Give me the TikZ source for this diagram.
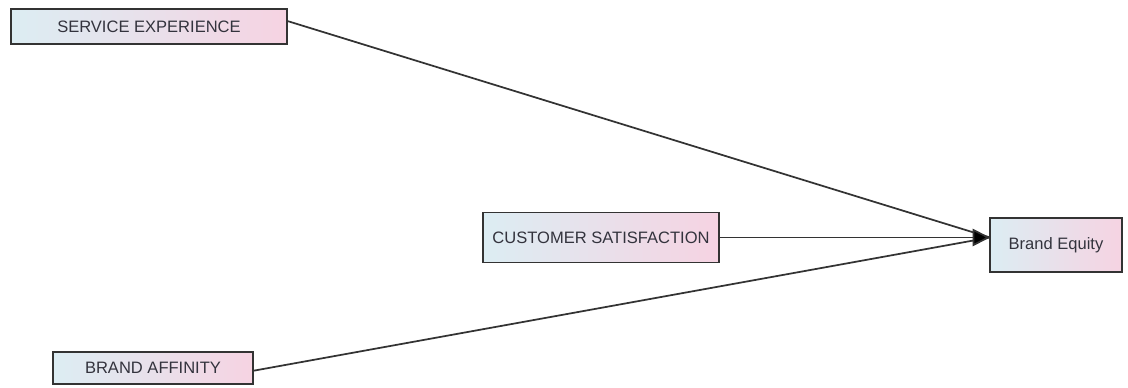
\documentclass[tikz,border=0pt]{standalone}
\usepackage{fontspec}
\setmainfont{Liberation Sans}
\usetikzlibrary{arrows.meta}
\definecolor{boxleft}{HTML}{DCEDF3}
\definecolor{boxright}{HTML}{F6D3E2}
\definecolor{txt}{HTML}{33333D}
\definecolor{edge}{HTML}{333333}
\tikzset{
  var/.style={draw=edge, line width=1.3pt, left color=boxleft, right color=boxright,
    text=txt, font=\fontsize{12.4}{14}\selectfont, inner sep=0pt, anchor=center},
  link/.style={draw=edge, line width=1.3pt},
}
\begin{document}
\begin{tikzpicture}[x=0.75pt,y=-0.75pt]
\useasboundingbox (0,0) rectangle (1128,388);
\node[var, minimum width=276*0.75pt, minimum height=35*0.75pt] (se) at (149,26.5) {SERVICE EXPERIENCE};
\node[var, minimum width=236*0.75pt, minimum height=50*0.75pt] (cs) at (601,237.5) {CUSTOMER SATISFACTION};
\node[var, minimum width=132*0.75pt, minimum height=54*0.75pt] (be) at (1056,245) {Brand Equity};
\node[var, minimum width=200*0.75pt, minimum height=32*0.75pt] (ba) at (153,368) {BRAND AFFINITY};
\coordinate (tip) at (990,237.5);
\draw[link] ([yshift=4pt]se.east) -- (tip);
\draw[link] ([yshift=-2pt]ba.east) -- (tip);
\draw[link, -{Triangle[length=13pt,width=13pt,fill=black]}] (cs.east) -- (tip);
\end{tikzpicture}
\end{document}
